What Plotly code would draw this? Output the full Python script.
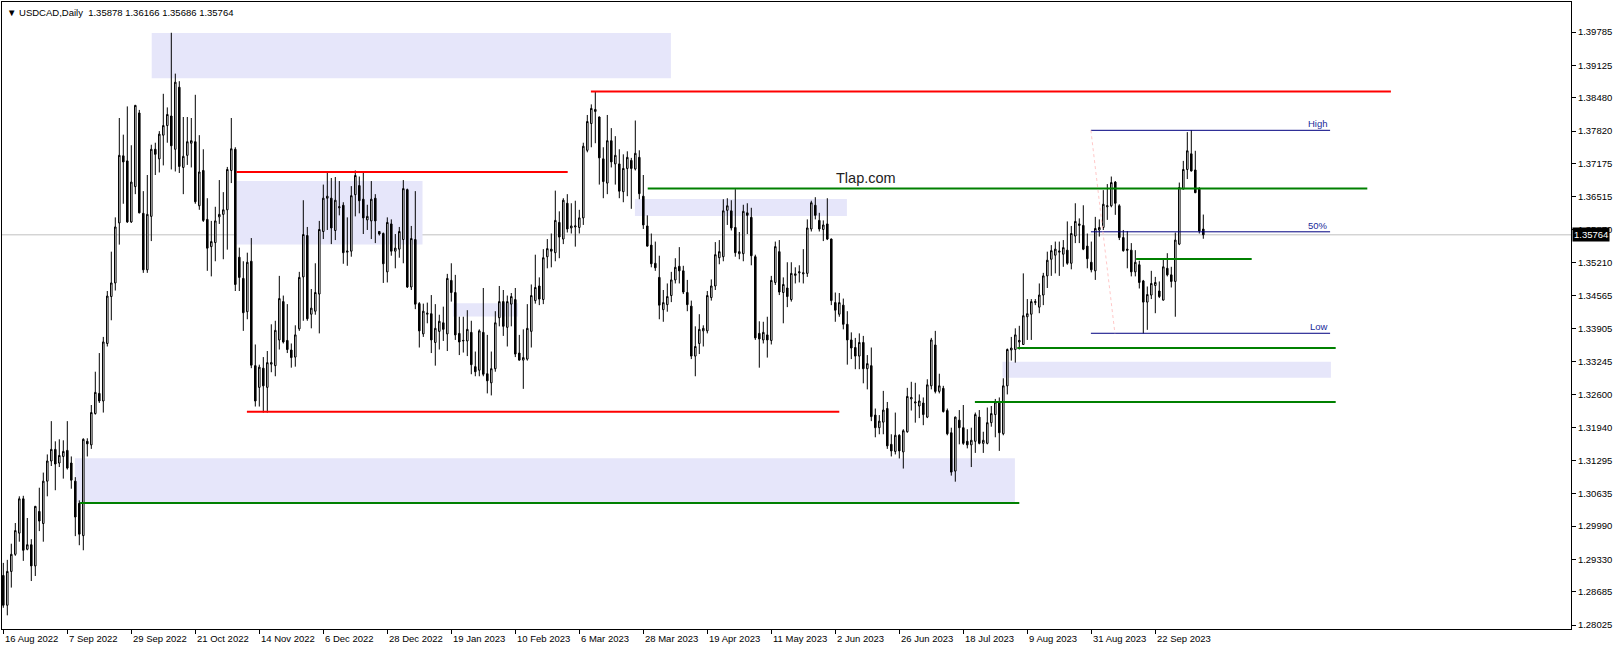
import plotly.graph_objects as go

# ---------------- data ----------------
opens = [1.2901,1.2842,1.2909,1.2943,1.2985,1.3053,1.2953,1.2962,1.2920,1.3028,
1.3004,1.3088,1.3128,1.3151,1.3124,1.3137,1.3149,1.3124,1.3088,1.3044,
1.2980,1.3167,1.3160,1.3222,1.3262,1.3247,1.3361,1.3454,1.3481,1.3600,
1.3733,1.3723,1.3602,1.3672,1.3818,1.3619,1.3507,1.3613,1.3746,1.3727,
1.3774,1.3793,1.3812,1.3746,1.3869,1.3710,1.3734,1.3758,1.3761,1.3634,
1.3704,1.3607,1.3553,1.3561,1.3612,1.3617,1.3626,1.3704,1.3746,1.3532,
1.3490,1.3424,1.3524,1.3317,1.3274,1.3312,1.3274,1.3320,1.3317,1.3368,
1.3444,1.3367,1.3348,1.3334,1.3390,1.3493,1.3575,1.3419,1.3425,1.3459,
1.3583,1.3649,1.3649,1.3585,1.3630,1.3635,1.3542,1.3544,1.3656,1.3674,
1.3647,1.3606,1.3604,1.3649,1.3583,1.3579,1.3503,1.3598,1.3544,1.3548,
1.3567,1.3666,1.3473,1.3567,1.3440,1.3380,1.3419,1.3420,1.3363,1.3385,
1.3402,1.3380,1.3486,1.3462,1.3381,1.3366,1.3366,1.3383,1.3315,1.3308,
1.3383,1.3301,1.3283,1.3311,1.3412,1.3444,1.3393,1.3439,1.3448,1.3342,
1.3328,1.3330,1.3385,1.3446,1.3475,1.3448,1.3533,1.3548,1.3541,1.3601,
1.3568,1.3639,1.3590,1.3592,1.3591,1.3610,1.3744,1.3797,1.3821,1.3810,
1.3727,1.3679,1.3763,1.3717,1.3717,1.3662,1.3708,1.3724,1.3707,1.3730,
1.3653,1.3594,1.3556,1.3520,1.3492,1.3428,1.3438,1.3456,1.3487,1.3514,
1.3505,1.3462,1.3435,1.3336,1.3361,1.3386,1.3386,1.3452,1.3475,1.3531,
1.3533,1.3625,1.3624,1.3591,1.3539,1.3539,1.3620,1.3611,1.3533,1.3381,
1.3368,1.3378,1.3367,1.3482,1.3543,1.3462,1.3471,1.3448,1.3496,1.3501,
1.3499,1.3500,1.3588,1.3635,1.3605,1.3587,1.3598,1.3568,1.3442,1.3419,
1.3437,1.3399,1.3368,1.3353,1.3336,1.3363,1.3311,1.3317,1.3219,1.3194,
1.3205,1.3232,1.3161,1.3147,1.3179,1.3146,1.3186,1.3251,1.3243,1.3237,
1.3243,1.3215,1.3277,1.3358,1.3266,1.3272,1.3228,1.3184,1.3108,1.3209,
1.3194,1.3167,1.3160,1.3167,1.3215,1.3163,1.3163,1.3204,1.3220,1.3245,
1.3182,1.3277,1.3348,1.3349,1.3364,1.3359,1.3414,1.3419,1.3442,1.3433,
1.3457,1.3495,1.3528,1.3536,1.3542,1.3538,1.3546,1.3520,1.3574,1.3595,
1.3595,1.3554,1.3522,1.3505,1.3586,1.3591,1.3632,1.3634,1.3681,1.3634,
1.3571,1.3548,1.3546,1.3503,1.3517,1.3485,1.3443,1.3457,1.3476,1.3465,
1.3447,1.3510,1.3497,1.3484,1.3558,1.3667,1.3706,1.3737,1.3705,1.3667,
1.35878]

highs = [1.2926,1.2932,1.2964,1.3005,1.3058,1.3059,1.3015,1.2973,1.3039,1.3075,
1.3105,1.3141,1.3207,1.3167,1.3171,1.3169,1.3207,1.3137,1.3096,1.3050,
1.3173,1.3173,1.3239,1.3305,1.3342,1.3374,1.3465,1.3543,1.3611,1.3808,
1.3775,1.3831,1.3754,1.3834,1.3824,1.3663,1.3695,1.3755,1.3759,1.3782,
1.3856,1.3829,1.3977,1.3896,1.3881,1.3810,1.3810,1.3808,1.3854,1.3774,
1.3746,1.3649,1.3604,1.3632,1.3685,1.3661,1.3711,1.3808,1.3750,1.3551,
1.3524,1.3541,1.3570,1.3359,1.3319,1.3334,1.3346,1.3399,1.3406,1.3495,
1.3456,1.3439,1.3361,1.3397,1.3503,1.3645,1.3592,1.3469,1.3520,1.3604,
1.3676,1.3700,1.3689,1.3691,1.3683,1.3641,1.3611,1.3673,1.3704,1.3692,
1.3702,1.3636,1.3683,1.3657,1.3583,1.3581,1.3611,1.3607,1.3578,1.3592,
1.3685,1.3668,1.3594,1.3663,1.3443,1.3440,1.3442,1.3457,1.3439,1.3418,
1.3434,1.3499,1.3520,1.3497,1.3414,1.3414,1.3427,1.3406,1.3345,1.3389,
1.3471,1.3378,1.3345,1.3425,1.3475,1.3467,1.3456,1.3461,1.3471,1.3378,
1.3389,1.3439,1.3478,1.3537,1.3492,1.3548,1.3568,1.3579,1.3664,1.3623,
1.3649,1.3657,1.3639,1.3644,1.3626,1.3759,1.3814,1.3835,1.3860,1.3811,
1.3750,1.3814,1.3788,1.3772,1.3746,1.3736,1.3742,1.3729,1.3803,1.3744,
1.3695,1.3615,1.3579,1.3563,1.3535,1.3467,1.3480,1.3503,1.3530,1.3552,
1.3515,1.3487,1.3446,1.3395,1.3419,1.3397,1.3465,1.3488,1.3562,1.3566,
1.3647,1.3649,1.3645,1.3667,1.3582,1.3636,1.3639,1.3630,1.3537,1.3405,
1.3404,1.3414,1.3495,1.3563,1.3566,1.3492,1.3522,1.3522,1.3512,1.3516,
1.3548,1.3607,1.3644,1.3651,1.3620,1.3605,1.3649,1.3569,1.3462,1.3461,
1.3450,1.3425,1.3383,1.3372,1.3381,1.3376,1.3338,1.3353,1.3232,1.3219,
1.3267,1.3245,1.3181,1.3224,1.3181,1.3191,1.3273,1.3285,1.3283,1.3260,
1.3254,1.3290,1.3372,1.3386,1.3301,1.3277,1.3232,1.3194,1.3216,1.3229,
1.3239,1.3191,1.3194,1.3224,1.3229,1.3186,1.3234,1.3237,1.3251,1.3254,
1.3292,1.3351,1.3374,1.3391,1.3396,1.3500,1.3449,1.3449,1.3449,1.3480,
1.3501,1.3543,1.3556,1.3563,1.3563,1.3566,1.3603,1.3594,1.3639,1.3609,
1.3635,1.3579,1.3563,1.3612,1.3607,1.3665,1.3677,1.3692,1.3683,1.3637,
1.3586,1.3584,1.3560,1.3546,1.3525,1.3487,1.3474,1.3505,1.3493,1.3484,
1.3527,1.3540,1.3513,1.3581,1.3680,1.3723,1.3780,1.3784,1.3743,1.3671,
1.36166]

lows = [1.2837,1.2822,1.2877,1.2940,1.2968,1.2930,1.2951,1.2890,1.2900,1.2989,
1.2968,1.3058,1.3118,1.3070,1.3116,1.3093,1.3111,1.3073,1.2979,1.2961,
1.2951,1.3137,1.3152,1.3220,1.3243,1.3224,1.3355,1.3407,1.3466,1.3557,
1.3638,1.3600,1.3600,1.3657,1.3619,1.3501,1.3501,1.3564,1.3695,1.3700,
1.3714,1.3759,1.3706,1.3702,1.3699,1.3657,1.3715,1.3710,1.3638,1.3626,
1.3602,1.3505,1.3494,1.3524,1.3598,1.3528,1.3547,1.3679,1.3465,1.3465,
1.3386,1.3409,1.3312,1.3236,1.3236,1.3224,1.3224,1.3304,1.3296,1.3349,
1.3361,1.3342,1.3313,1.3315,1.3386,1.3406,1.3406,1.3391,1.3418,1.3381,
1.3568,1.3586,1.3558,1.3566,1.3615,1.3519,1.3515,1.3533,1.3613,1.3619,
1.3578,1.3586,1.3568,1.3560,1.3575,1.3481,1.3482,1.3535,1.3510,1.3531,
1.3520,1.3471,1.3467,1.3429,1.3353,1.3374,1.3401,1.3342,1.3317,1.3349,
1.3366,1.3346,1.3444,1.3368,1.3338,1.3343,1.3336,1.3300,1.3296,1.3296,
1.3296,1.3262,1.3258,1.3305,1.3395,1.3376,1.3355,1.3395,1.3334,1.3327,
1.3271,1.3327,1.3353,1.3440,1.3437,1.3439,1.3510,1.3512,1.3524,1.3530,
1.3558,1.3581,1.3579,1.3553,1.3579,1.3596,1.3740,1.3750,1.3758,1.3676,
1.3649,1.3657,1.3710,1.3676,1.3649,1.3641,1.3653,1.3628,1.3704,1.3647,
1.3588,1.3553,1.3512,1.3505,1.3409,1.3404,1.3424,1.3443,1.3480,1.3480,
1.3459,1.3425,1.3330,1.3296,1.3340,1.3355,1.3381,1.3446,1.3467,1.3518,
1.3524,1.3596,1.3585,1.3533,1.3528,1.3524,1.3578,1.3516,1.3368,1.3313,
1.3361,1.3333,1.3359,1.3477,1.3457,1.3401,1.3433,1.3444,1.3480,1.3482,
1.3480,1.3493,1.3583,1.3607,1.3583,1.3564,1.3566,1.3437,1.3404,1.3414,
1.3389,1.3319,1.3330,1.3310,1.3310,1.3282,1.3270,1.3207,1.3175,1.3181,
1.3181,1.3152,1.3137,1.3141,1.3133,1.3113,1.3184,1.3228,1.3204,1.3213,
1.3199,1.3213,1.3270,1.3262,1.3262,1.3224,1.3179,1.3099,1.3087,1.3161,
1.3160,1.3153,1.3116,1.3144,1.3161,1.3144,1.3161,1.3196,1.3175,1.3148,
1.3179,1.3260,1.3327,1.3323,1.3349,1.3358,1.3368,1.3368,1.3437,1.3421,
1.3437,1.3471,1.3495,1.3500,1.3495,1.3513,1.3517,1.3508,1.3560,1.3560,
1.3546,1.3510,1.3502,1.3487,1.3573,1.3586,1.3606,1.3631,1.3616,1.3566,
1.3543,1.3510,1.3494,1.3494,1.3470,1.3381,1.3388,1.3449,1.3421,1.3451,
1.3446,1.3494,1.3472,1.3414,1.3556,1.3667,1.3687,1.3702,1.3659,1.3579,
1.35686]

closes = [1.2842,1.2909,1.2943,1.2990,1.3053,1.2951,1.2962,1.2920,1.3038,1.3009,
1.3088,1.3128,1.3151,1.3122,1.3139,1.3147,1.3114,1.3090,1.3017,1.2983,
1.3171,1.3162,1.3224,1.3264,1.3247,1.3364,1.3455,1.3481,1.3592,1.3734,
1.3721,1.3602,1.3681,1.3833,1.3620,1.3507,1.3617,1.3746,1.3736,1.3776,
1.3793,1.3815,1.3753,1.3879,1.3712,1.3732,1.3761,1.3763,1.3642,1.3701,
1.3605,1.3550,1.3563,1.3604,1.3617,1.3626,1.3706,1.3747,1.3478,1.3492,
1.3422,1.3522,1.3318,1.3247,1.3314,1.3277,1.3323,1.3323,1.3387,1.3450,
1.3364,1.3349,1.3333,1.3378,1.3492,1.3577,1.3410,1.3431,1.3462,1.3587,
1.3649,1.3653,1.3590,1.3645,1.3632,1.3541,1.3544,1.3654,1.3694,1.3644,
1.3610,1.3613,1.3647,1.3604,1.3578,1.3519,1.3601,1.3544,1.3550,1.3583,
1.3668,1.3473,1.3569,1.3439,1.3386,1.3425,1.3421,1.3368,1.3391,1.3405,
1.3389,1.3490,1.3462,1.3378,1.3364,1.3367,1.3389,1.3319,1.3305,1.3386,
1.3300,1.3287,1.3311,1.3402,1.3444,1.3395,1.3444,1.3454,1.3340,1.3328,
1.3333,1.3391,1.3456,1.3472,1.3449,1.3531,1.3549,1.3544,1.3605,1.3572,
1.3645,1.3588,1.3594,1.3594,1.3610,1.3752,1.3801,1.3827,1.3825,1.3729,
1.3682,1.3763,1.3721,1.3734,1.3663,1.3708,1.3730,1.3708,1.3738,1.3658,
1.3596,1.3554,1.3519,1.3511,1.3437,1.3442,1.3454,1.3487,1.3512,1.3505,
1.3463,1.3438,1.3336,1.3355,1.3389,1.3391,1.3456,1.3475,1.3537,1.3543,
1.3624,1.3634,1.3590,1.3541,1.3543,1.3623,1.3615,1.3535,1.3372,1.3370,
1.3383,1.3368,1.3486,1.3553,1.3463,1.3478,1.3454,1.3500,1.3499,1.3503,
1.3501,1.3590,1.3640,1.3615,1.3588,1.3596,1.3568,1.3446,1.3427,1.3442,
1.3399,1.3368,1.3352,1.3336,1.3363,1.3311,1.3321,1.3216,1.3194,1.3207,
1.3229,1.3158,1.3148,1.3179,1.3148,1.3188,1.3256,1.3254,1.3245,1.3247,
1.3220,1.3279,1.3368,1.3266,1.3277,1.3226,1.3182,1.3106,1.3215,1.3194,
1.3163,1.3160,1.3169,1.3220,1.3163,1.3169,1.3204,1.3222,1.3245,1.3184,
1.3277,1.3349,1.3352,1.3378,1.3367,1.3416,1.3420,1.3444,1.3444,1.3457,
1.3495,1.3526,1.3545,1.3548,1.3544,1.3551,1.3520,1.3579,1.3603,1.3598,
1.3548,1.3529,1.3507,1.3589,1.3591,1.3637,1.3634,1.3680,1.3639,1.3571,
1.3545,1.3546,1.3503,1.3522,1.3482,1.3443,1.3458,1.3480,1.3482,1.3454,
1.3513,1.3497,1.3484,1.3566,1.3670,1.3706,1.3743,1.3703,1.3660,1.3584,
1.35764]

date_labels = ["16 Aug 2022", "7 Sep 2022", "29 Sep 2022", "21 Oct 2022", "14 Nov 2022",
               "6 Dec 2022", "28 Dec 2022", "19 Jan 2023", "10 Feb 2023", "6 Mar 2023",
               "28 Mar 2023", "19 Apr 2023", "11 May 2023", "2 Jun 2023", "26 Jun 2023",
               "18 Jul 2023", "9 Aug 2023", "31 Aug 2023", "22 Sep 2023"]
date_label_bars = [0, 16, 32, 48, 64, 80, 96, 112, 128, 144, 160, 176, 192, 208, 224, 240, 256, 272, 288]

price_ticks = [1.28025, 1.28685, 1.29330, 1.29990, 1.30635, 1.31295, 1.31940, 1.32600, 1.33245,
               1.33905, 1.34565, 1.35210, 1.35870, 1.36515, 1.37175, 1.37820, 1.38480, 1.39125, 1.39785]

last_price = 1.35764
header = "USDCAD,Daily  1.35878 1.36166 1.35686 1.35764"

# drawn objects (start bar, end bar, level)
zones = [  # x0, x1, y0, y1
    (37.1, 166.9, 1.38870, 1.39765),
    (58.3, 104.8, 1.35570, 1.36829),
    (112.4, 128.7, 1.34143, 1.34408),
    (157.9, 210.9, 1.36138, 1.36472),
    (17.9, 252.9, 1.30464, 1.31336),
    (249.8, 331.9, 1.32929, 1.33248),
]
red_levels = [(58.3, 141.1, 1.37011), (60.9, 209.0, 1.32254), (146.9, 346.9, 1.38604)]
green_levels = [(19.2, 254.0, 1.30448), (161.1, 341.0, 1.36680), (283.2, 312.1, 1.35285),
                (253.5, 333.1, 1.33521), (242.9, 333.1, 1.32451)]
fib_x = (271.9, 331.7)
fib_levels = [("High", 1.37836), ("50%", 1.35824), ("Low", 1.33812)]
fib_anchor = ((271.9, 1.37836), (277.9, 1.33812))
watermark = ("Tlap.com", 215.7, 1.36891)

# ---------------- figure ----------------
bars = list(range(len(opens)))
fig = go.Figure()
fig.add_trace(go.Candlestick(
    x=bars, open=opens, high=highs, low=lows, close=closes,
    increasing=dict(line=dict(color="black", width=1), fillcolor="white"),
    decreasing=dict(line=dict(color="black", width=1), fillcolor="black"),
    whiskerwidth=0, showlegend=False, hoverinfo="skip"))

shapes = []
for x0, x1, y0, y1 in zones:
    shapes.append(dict(type="rect", xref="x", yref="y", x0=x0, x1=x1, y0=y0, y1=y1,
                       fillcolor="#E6E6FA", line=dict(width=0), layer="below"))
shapes.append(dict(type="line", xref="paper", yref="y", x0=0, x1=1, y0=last_price, y1=last_price,
                   line=dict(color="#C0C0C0", width=1), layer="below"))
for x0, x1, y in red_levels:
    shapes.append(dict(type="line", xref="x", yref="y", x0=x0, x1=x1, y0=y, y1=y,
                       line=dict(color="#FF0000", width=2)))
for x0, x1, y in green_levels:
    shapes.append(dict(type="line", xref="x", yref="y", x0=x0, x1=x1, y0=y, y1=y,
                       line=dict(color="#008000", width=2)))
for name, y in fib_levels:
    shapes.append(dict(type="line", xref="x", yref="y", x0=fib_x[0], x1=fib_x[1], y0=y, y1=y,
                       line=dict(color="#000080", width=1)))
(fa, fb) = fib_anchor
shapes.append(dict(type="line", xref="x", yref="y", x0=fa[0], y0=fa[1], x1=fb[0], y1=fb[1],
                   line=dict(color="#FFC8C8", width=1, dash="dot")))

annotations = []
for name, y in fib_levels:
    annotations.append(dict(x=fib_x[1], y=y, xref="x", yref="y", text=name, showarrow=False,
                            xanchor="right", yanchor="bottom", yshift=-1,
                            font=dict(family="Liberation Sans, Arial", size=9.5, color="#1a2a9a")))
annotations.append(dict(x=watermark[1], y=watermark[2], xref="x", yref="y", text=watermark[0],
                        showarrow=False, xanchor="center", yanchor="middle",
                        font=dict(family="Liberation Sans, Arial", size=14.5, color="#222222")))
annotations.append(dict(x=0, y=1, xref="paper", yref="paper", xanchor="left", yanchor="top",
                        xshift=3, yshift=-3, showarrow=False,
                        text="\u25BC " + header,
                        font=dict(family="Liberation Sans, Arial", size=9.5, color="black")))
annotations.append(dict(x=1, y=last_price, xref="paper", yref="y", xanchor="left", yanchor="middle",
                        text=f"{last_price:.5f}", showarrow=False, bgcolor="black", borderpad=1,
                        xshift=1,
                        font=dict(family="Liberation Sans, Arial", size=9.5, color="white")))
for lbl, b in zip(date_labels, date_label_bars):
    annotations.append(dict(x=b, y=0, xref="x", yref="paper", xanchor="left", yanchor="top",
                            text=lbl, showarrow=False, xshift=0, yshift=-2,
                            font=dict(family="Liberation Sans, Arial", size=9.5, color="black")))

px_per_bar = 4.0
first_bar_px = 3.3
fig.update_layout(
    width=1618, height=650,
    margin=dict(l=2, r=47, t=2, b=21),
    paper_bgcolor="white", plot_bgcolor="white",
    shapes=shapes, annotations=annotations,
    boxgap=0.45,
    xaxis=dict(range=[(2 - first_bar_px) / px_per_bar, (1571 - first_bar_px) / px_per_bar],
               rangeslider=dict(visible=False), showgrid=False, zeroline=False,
               showline=True, linecolor="black", linewidth=1, mirror=True,
               tickvals=date_label_bars, ticktext=["" for _ in date_label_bars],
               ticks="outside", ticklen=4, tickcolor="black", fixedrange=True),
    yaxis=dict(range=[1.27949, 1.40380], side="right", showgrid=False, zeroline=False,
               showline=True, linecolor="black", linewidth=1, mirror=True,
               tickvals=price_ticks, ticktext=[f"{v:.5f}" for v in price_ticks],
               ticks="outside", ticklen=4, tickcolor="black",
               tickfont=dict(family="Liberation Sans, Arial", size=9.5, color="black")),
    hovermode=False,
)
fig.write_html("out.html", config={"displayModeBar": False},
               post_script="document.body.style.margin='0';document.body.style.overflow='hidden';")
